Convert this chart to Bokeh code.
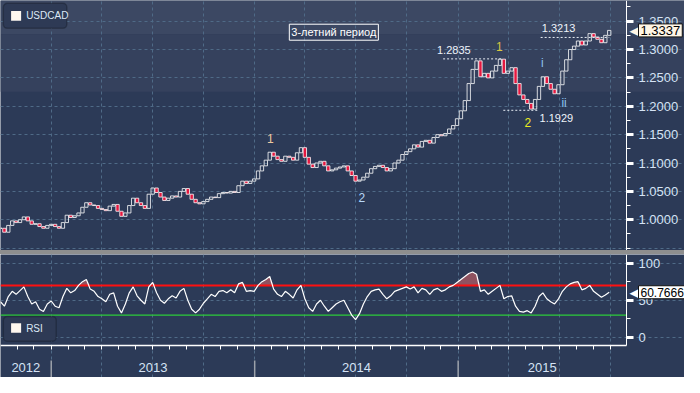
import numpy as np
import pandas as pd
from bokeh.plotting import figure
from bokeh.layouts import column
from bokeh.models import (Range1d, FixedTicker, PrintfTickFormatter, DatetimeTickFormatter,
                          Label, BoxAnnotation, Div, ColumnDataSource)
from bokeh.embed import file_html
from bokeh.resources import INLINE

# ---------------- data (weekly) ----------------
close = [
    0.985, 0.978, 0.990, 0.998, 0.995, 1.000, 1.005, 0.998, 0.992, 0.993,
    0.988, 0.985, 0.990, 0.992, 0.988, 0.985, 0.995, 1.008, 1.004, 1.007,
    1.012, 1.022, 1.030, 1.026, 1.025, 1.020, 1.018, 1.016, 1.024, 1.027,
    1.015, 1.006, 1.012, 1.025, 1.038, 1.030, 1.025, 1.020, 1.045, 1.056,
    1.048, 1.040, 1.034, 1.038, 1.042, 1.040, 1.050, 1.055, 1.045, 1.036,
    1.030, 1.028, 1.032, 1.036, 1.040, 1.039, 1.046, 1.048, 1.047, 1.050,
    1.048, 1.060, 1.068, 1.064, 1.068, 1.072, 1.086, 1.095, 1.105, 1.119,
    1.112, 1.106, 1.103, 1.112, 1.110, 1.105, 1.118, 1.127, 1.110, 1.098,
    1.092, 1.100, 1.103, 1.095, 1.086, 1.088, 1.091, 1.093, 1.095, 1.086,
    1.078, 1.068, 1.070, 1.075, 1.082, 1.090, 1.094, 1.096, 1.092, 1.086,
    1.090, 1.100, 1.105, 1.115, 1.120, 1.125, 1.132, 1.128, 1.138, 1.140,
    1.135, 1.145, 1.150, 1.148, 1.152, 1.160, 1.166, 1.178, 1.192, 1.210,
    1.240, 1.265, 1.280, 1.252, 1.258, 1.250, 1.262, 1.272, 1.283, 1.258,
    1.262, 1.268, 1.240, 1.220, 1.212, 1.205, 1.195, 1.212, 1.235, 1.252,
    1.240, 1.230, 1.222, 1.238, 1.262, 1.282, 1.300, 1.306, 1.315, 1.308,
    1.315, 1.328, 1.322, 1.318, 1.312, 1.325, 1.3337,
]
rsi = [
    48, 42, 55, 62, 58, 63, 68, 55, 45, 48,
    38, 35, 45, 49, 42, 40, 55, 66, 60, 63,
    70, 75, 78, 65, 62, 55, 52, 48, 58, 60,
    42, 33, 45, 60, 68, 56, 50, 45, 68, 74,
    60, 50, 46, 52, 56, 53, 62, 66, 50, 38,
    33, 38, 46, 52, 58, 55, 62, 63, 60, 64,
    60, 72, 74, 62, 63, 62, 70, 75, 78, 82,
    65, 58, 55, 62, 58, 53, 64, 70, 52, 40,
    35, 45, 50, 42, 35, 40, 45, 48, 50, 40,
    30, 24, 32, 45, 55, 62, 64, 65, 58, 52,
    56, 62, 64, 66, 68, 65, 68, 60, 66, 64,
    58, 64, 66, 62, 64, 68, 70, 74, 78, 82,
    86, 88, 85, 62, 64, 58, 62, 66, 70, 52,
    55, 56, 42, 35, 34, 36, 33, 42, 55, 60,
    52, 48, 45, 52, 62, 68, 72, 74, 75, 64,
    66, 70, 62, 58, 54, 57, 60.7666,
]
dates = pd.date_range("2012-10-02", periods=len(close), freq="7D")

symbol = "USDCAD"
indicator = "RSI"
period_note = "3-летний период"
last_price = 1.3337
last_rsi = 60.7666
price_ticks = [1.00, 1.05, 1.10, 1.15, 1.20, 1.25, 1.30, 1.35]
price_minor = [0.95, 0.975, 1.025, 1.075, 1.125, 1.175, 1.225, 1.275, 1.325, 1.375]
rsi_ticks = [0, 50, 100]
rsi_minor = [25, 75]
overbought, oversold = 70, 30
year_labels = ["2012", "2013", "2014", "2015"]

high_1 = 1.2835
low_2 = 1.1929
recent_high = 1.3213

# wave labels: text, date, price, colour
waves = [
    ("1", "2014-01-29", 1.144, "#ecc9a0"),
    ("2", "2014-07-12", 1.039, "#b8d8f8"),
    ("1", "2015-03-16", 1.305, "#d9c640"),
    ("2", "2015-05-06", 1.171, "#ecec1e"),
    ("i", "2015-06-01", 1.276, "#8cc4ee"),
    ("ii", "2015-07-10", 1.205, "#8cc4ee"),
]


def ms(d):
    return (pd.Timestamp(d) - pd.Timestamp("1970-01-01")) / pd.Timedelta(milliseconds=1)


DAY = 86400000.0
W = 684
PLOT_W = 626           # width of the data area; the rest holds the value axis
X_START, X_END = "2012-10-02", "2015-10-30"
x0, x1 = ms(X_START), ms(X_END)
x_ext = x0 + (x1 - x0) * W / PLOT_W
xr = Range1d(x0, x_ext)

quarters = [ms(f"{y}-{m:02d}-01") for y in (2013, 2014, 2015) for m in (1, 4, 7, 10)]
months = [ms(f"{y}-{m:02d}-01") for y in (2012, 2013, 2014, 2015) for m in range(1, 13)
          if x0 < ms(f"{y}-{m:02d}-01") < x1]
year_starts = [ms("2013-01-01"), ms("2014-01-01"), ms("2015-01-01")]
bounds = [x0] + year_starts + [x1]
year_centers = [(a + b) / 2 for a, b in zip(bounds[:-1], bounds[1:])]

BG = "#2c3a57"
GRID = "#4f6a87"
TXT = "#d5e3f5"
FONT = "Liberation Sans"
RED = "#e5173f"


def style_y(ax, ticks, minor, fmt):
    ax.fixed_location = x1
    ax.ticker = FixedTicker(ticks=ticks, minor_ticks=minor)
    ax.formatter = PrintfTickFormatter(format=fmt)
    ax.axis_line_color = "white"
    ax.axis_line_width = 1
    ax.major_tick_line_color = "white"
    ax.major_tick_line_width = 3
    ax.major_tick_out = 7
    ax.major_tick_in = 0
    ax.minor_tick_line_color = "white"
    ax.minor_tick_out = 4
    ax.minor_tick_in = 0
    ax.major_label_text_font = FONT
    ax.major_label_text_font_size = "13px"
    ax.major_label_text_color = TXT
    ax.major_label_standoff = 5


# ---------------- price panel ----------------
p = figure(width=W, height=250, x_range=xr, y_range=Range1d(0.9458, 1.3864),
           x_axis_type="datetime", x_axis_location=None, y_axis_location="right",
           output_backend="svg", toolbar_location=None,
           background_fill_color=BG, border_fill_color=BG,
           min_border_left=0, min_border_right=0, min_border_top=0, min_border_bottom=0)
p.outline_line_color = None
style_y(p.yaxis[0], price_ticks, price_minor, "%.4f")

p.add_layout(BoxAnnotation(bottom=1.327, fill_color="#3c4863", fill_alpha=1,
                           line_color=None, level="image"))
p.add_layout(BoxAnnotation(bottom=1.2254, top=1.327, fill_color="#35415d", fill_alpha=1,
                           line_color=None, level="image"))

p.xgrid.ticker = FixedTicker(ticks=quarters)
p.ygrid.ticker = FixedTicker(ticks=[0.95] + price_ticks)
p.ygrid.bounds = (x0, x1)
p.grid.grid_line_color = GRID
p.grid.grid_line_dash = "3 3"
p.grid.grid_line_width = 1

opens = [close[0]] + close[:-1]
tops = [max(o, c) for o, c in zip(opens, close)]
bots = [min(o, c) for o, c in zip(opens, close)]
cols = ["white" if c >= o else RED for o, c in zip(opens, close)]
alph = [0.0 if c >= o else 1.0 for o, c in zip(opens, close)]
src = ColumnDataSource(dict(x=dates, top=tops, bottom=bots, color=cols, alpha=alph))
p.vbar(x="x", width=6 * DAY, top="top", bottom="bottom", fill_color="color",
       fill_alpha="alpha", line_color="white", line_width=0.8, source=src)

# reference levels
lv_x0 = [ms("2014-12-05"), ms("2015-03-23"), ms("2015-05-29")]
lv_x1 = [ms("2015-03-20"), ms("2015-05-24"), ms("2015-09-29")]
lv_y = [high_1, low_2, recent_high]
p.segment(x0=lv_x0, x1=lv_x1, y0=lv_y, y1=lv_y, line_color="#e8eef5",
          line_width=1, line_dash="2 2")

for txt, d, yy in [(f"{high_1:.4f}", "2014-11-24", 1.2983),
                   (f"{low_2:.4f}", "2015-05-27", 1.1797),
                   (f"{recent_high:.4f}", "2015-05-31", 1.3373)]:
    p.add_layout(Label(x=ms(d), y=yy, text=txt, text_font=FONT, text_font_size="11px",
                       text_color="#eef3fa", text_baseline="middle", text_align="left"))

for txt, d, yy, c in waves:
    p.add_layout(Label(x=ms(d), y=yy, text=txt, text_font=FONT, text_font_size="12px",
                       text_color=c, text_baseline="middle", text_align="center"))

p.add_layout(Label(x=ms("2014-05-23"), y=1.3305, text=period_note, text_font=FONT,
                   text_font_size="11px", text_color="white", text_baseline="middle",
                   text_align="center", border_line_color="white", border_line_width=1,
                   padding=2))

# legend box
p.add_layout(BoxAnnotation(left=ms("2012-10-07"), right=ms("2013-01-29"), bottom=1.3373,
                           top=1.3814, fill_color="#2e3a55", fill_alpha=1,
                           line_color="#0c1018", line_width=1.5, border_radius=4))
p.add_layout(BoxAnnotation(left=ms("2012-10-21"), right=ms("2012-11-08"), bottom=1.3508,
                           top=1.3678, fill_color="#fff8f0", fill_alpha=1, line_color=None))
p.add_layout(Label(x=ms("2012-11-17"), y=1.3593, text=symbol, text_font=FONT,
                   text_font_size="10px", text_color="#dde8f5", text_baseline="middle"))

# last price callout
p.add_layout(Label(x=x1, y=last_price, x_offset=3, text="◀", text_font="DejaVu Sans",
                   text_font_size="13px", text_color="#fff6e6", text_baseline="middle"))
p.add_layout(Label(x=x1, y=last_price, x_offset=12, text=f"{last_price:.4f}",
                   text_font=FONT, text_font_size="13px", text_color="black",
                   text_baseline="middle", background_fill_color="#fff6e6",
                   border_line_color="#111111", border_line_width=1, padding=2))

# ---------------- RSI panel ----------------
AXIS_Y = -10.26          # RSI value at which the time axis line sits
r = figure(width=W, height=123, x_range=xr, y_range=Range1d(-53.8, 111.5),
           x_axis_type="datetime", y_axis_location="right",
           output_backend="svg", toolbar_location=None,
           background_fill_color=BG, border_fill_color=BG,
           min_border_left=0, min_border_right=0, min_border_top=0, min_border_bottom=0)
r.outline_line_color = None
style_y(r.yaxis[0], rsi_ticks, rsi_minor, "%d")
r.yaxis[0].bounds = (AXIS_Y, 111.5)

xa = r.xaxis[0]
xa.fixed_location = AXIS_Y
xa.bounds = (x0, x1)
xa.ticker = FixedTicker(ticks=year_centers, minor_ticks=months)
xa.formatter = DatetimeTickFormatter(years="%Y", months="%Y", days="%Y", hours="%Y")
xa.axis_line_color = "white"
xa.axis_line_width = 1.5
xa.major_tick_out = 0
xa.major_tick_in = 0
xa.major_tick_line_color = None
xa.minor_tick_out = 4
xa.minor_tick_in = 0
xa.minor_tick_line_color = "white"
xa.major_label_text_font = FONT
xa.major_label_text_font_size = "13px"
xa.major_label_text_color = TXT
xa.major_label_standoff = 14

# year separators below the axis
r.segment(x0=year_starts, x1=year_starts, y0=[-30.8] * 3, y1=[-53.8] * 3,
          line_color="#9ca1aa", line_width=1.5)

r.xgrid.ticker = FixedTicker(ticks=quarters)
r.xgrid.bounds = (AXIS_Y, 111.5)
r.ygrid.ticker = FixedTicker(ticks=rsi_ticks)
r.ygrid.bounds = (x0, x1)
r.grid.grid_line_color = GRID
r.grid.grid_line_dash = "3 3"
r.grid.grid_line_width = 1

rsi_arr = np.array(rsi, dtype=float)
r.varea(x=dates, y1=np.full(len(rsi_arr), float(overbought)),
        y2=np.maximum(rsi_arr, overbought), fill_color="#9a5562", fill_alpha=0.9)
r.segment(x0=[x0], x1=[x1], y0=[overbought], y1=[overbought],
          line_color="#ff1010", line_width=2)
r.segment(x0=[x0], x1=[x1], y0=[oversold], y1=[oversold],
          line_color="#2ccc3a", line_width=1.4)
r.line(x=dates, y=rsi_arr, line_color="white", line_width=1.2)

r.add_layout(BoxAnnotation(left=ms("2012-10-07"), right=ms("2013-01-10"), bottom=-5.1,
                           top=28.2, fill_color="#2e3a55", fill_alpha=1,
                           line_color="#0c1018", line_width=1.5, border_radius=4))
r.add_layout(BoxAnnotation(left=ms("2012-10-21"), right=ms("2012-11-08"), bottom=6.4,
                           top=19.2, fill_color="#fff8f0", fill_alpha=1, line_color=None))
r.add_layout(Label(x=ms("2012-11-17"), y=11.5, text=indicator, text_font=FONT,
                   text_font_size="10px", text_color="#dde8f5", text_baseline="middle"))

r.add_layout(Label(x=x1, y=last_rsi, x_offset=3, text="◀", text_font="DejaVu Sans",
                   text_font_size="13px", text_color="white", text_baseline="middle"))
r.add_layout(Label(x=x1, y=last_rsi, x_offset=12, text=f"{last_rsi:.4f}",
                   text_font=FONT, text_font_size="12px", text_color="black",
                   text_baseline="middle", background_fill_color="white",
                   border_line_color="#111111", border_line_width=1, padding=2))

sep = Div(text="", width=W, height=4, styles={"background-color": "#8e8e8e"}, margin=0)

layout = column(p, sep, r, spacing=0)
open("out.html", "w").write(file_html(layout, INLINE))
